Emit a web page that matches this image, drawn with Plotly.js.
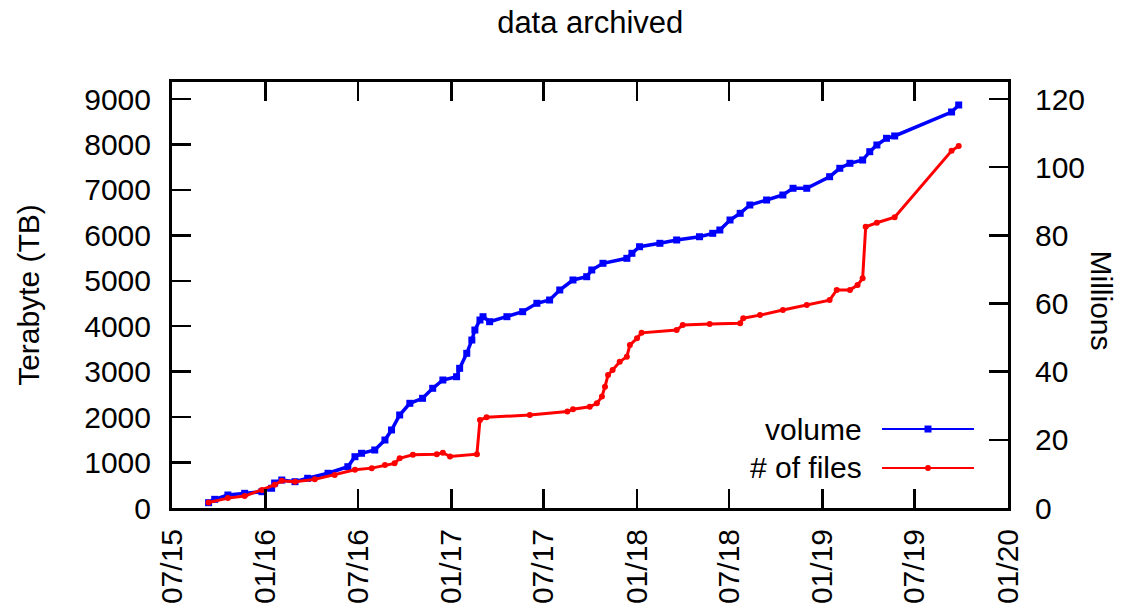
<!DOCTYPE html>
<html>
<head>
<meta charset="utf-8">
<script src="https://cdn.plot.ly/plotly-3.0.1.min.js"></script>
<style>html,body{margin:0;padding:0;background:#fff;}#chart{width:1121px;height:608px;}</style>
</head>
<body>
<div id="chart"></div>
<script>
// ---- data ----
const volDates = ['2015-09-11','2015-09-23','2015-10-19','2015-11-21','2015-12-25','2016-01-13','2016-01-19','2016-02-02','2016-02-28','2016-03-24','2016-05-03','2016-06-11','2016-06-25','2016-07-08','2016-08-03','2016-08-23','2016-09-05','2016-09-21','2016-10-11','2016-11-05','2016-11-25','2016-12-15','2017-01-11','2017-01-17','2017-01-31','2017-02-10','2017-02-16','2017-02-26','2017-03-04','2017-03-17','2017-04-20','2017-05-21','2017-06-18','2017-07-13','2017-08-02','2017-08-28','2017-09-24','2017-10-04','2017-10-26','2017-12-12','2017-12-22','2018-01-06','2018-02-15','2018-03-20','2018-05-04','2018-05-30','2018-06-13','2018-07-03','2018-07-23','2018-08-11','2018-09-13','2018-10-15','2018-11-04','2018-12-01','2019-01-15','2019-02-04','2019-02-24','2019-03-21','2019-04-04','2019-04-18','2019-05-07','2019-05-23','2019-09-12','2019-09-26'];
const volTB = [117,191,286,323,359,434,550,616,579,654,764,909,1129,1204,1276,1496,1717,2047,2304,2414,2634,2817,2889,3074,3404,3697,3917,4137,4210,4100,4210,4320,4505,4577,4798,5018,5090,5238,5385,5495,5605,5750,5825,5898,5970,6045,6118,6338,6485,6668,6778,6888,7036,7036,7291,7476,7586,7658,7841,7989,8136,8187,8715,8869];

const filesDates = ['2015-09-11','2015-10-19','2015-11-21','2015-12-25','2016-01-19','2016-02-02','2016-02-28','2016-04-07','2016-05-16','2016-06-25','2016-07-28','2016-08-23','2016-09-11','2016-09-21','2016-10-17','2016-12-03','2016-12-15','2016-12-29','2017-02-20','2017-02-26','2017-03-11','2017-06-04','2017-08-17','2017-08-28','2017-09-30','2017-10-14','2017-10-24','2017-10-30','2017-11-05','2017-11-14','2017-11-28','2017-12-12','2017-12-18','2018-01-01','2018-01-10','2018-03-20','2018-04-01','2018-05-24','2018-07-23','2018-07-29','2018-08-31','2018-10-15','2018-12-01','2019-01-15','2019-01-29','2019-02-24','2019-03-11','2019-03-21','2019-03-27','2019-04-18','2019-05-23','2019-09-12','2019-09-26'];
const filesMillions = [1.6,2.9,3.5,5.3,6.8,8.0,7.7,8.4,9.7,11.2,11.7,12.6,13.1,14.6,15.6,15.8,16.2,15.1,15.8,25.8,26.6,27.3,28.3,29.0,29.7,30.7,32.7,35.6,39.0,40.5,42.9,44.4,47.8,49.8,51.4,52.2,53.7,54.0,54.2,55.7,56.6,58.1,59.6,61.0,64.0,64.0,65.4,67.4,82.5,83.7,85.3,104.8,106.2];

const xTickVals = ['2015-07-01','2016-01-01','2016-07-01','2017-01-01','2017-07-01','2018-01-01','2018-07-01','2019-01-01','2019-07-01','2020-01-01'];
const xTickText = ['07/15','01/16','07/16','01/17','07/17','01/18','07/18','01/19','07/19','01/20'];
const seriesNames = ['volume', '# of files'];
const titleText = 'data archived';
const yTitle = 'Terabyte (TB)';
const y2Title = 'Millions';

// ---- styling ----
const FONT = 'Liberation Sans, Arial, Helvetica, sans-serif';
const FS = 30;
const BLUE = '#0000ff';
const RED = '#ff0000';

const traces = [
  {
    x: volDates, y: volTB, name: seriesNames[0], type: 'scatter', mode: 'lines+markers',
    line: {color: BLUE, width: 3.5}, marker: {color: BLUE, symbol: 'square', size: 7},
    yaxis: 'y', showlegend: false
  },
  {
    x: filesDates, y: filesMillions, name: seriesNames[1], type: 'scatter', mode: 'lines+markers',
    line: {color: RED, width: 3}, marker: {color: RED, symbol: 'circle', size: 6},
    yaxis: 'y2', showlegend: false
  }
];

// legend (gnuplot style: text right-aligned, sample on the right)
const legY = [0.1854, 0.0939];
const legTextX = 0.8278, legX0 = 0.8493, legX1 = 0.9593, legMk = 0.9043;
const shapes = [
  {type: 'line', xref: 'paper', yref: 'paper', x0: legX0, x1: legX1, y0: legY[0], y1: legY[0], line: {color: BLUE, width: 2}},
  {type: 'rect', xref: 'paper', yref: 'paper', xsizemode: 'pixel', ysizemode: 'pixel', xanchor: legMk, yanchor: legY[0], x0: -3.5, x1: 3.5, y0: -3.5, y1: 3.5, fillcolor: BLUE, line: {width: 0}},
  {type: 'line', xref: 'paper', yref: 'paper', x0: legX0, x1: legX1, y0: legY[1], y1: legY[1], line: {color: RED, width: 2}},
  {type: 'circle', xref: 'paper', yref: 'paper', xsizemode: 'pixel', ysizemode: 'pixel', xanchor: legMk, yanchor: legY[1], x0: -3, x1: 3, y0: -3, y1: 3, fillcolor: RED, line: {width: 0}}
];
const annotations = [
  {xref: 'paper', yref: 'paper', x: legTextX, y: legY[0], xanchor: 'right', yanchor: 'middle', text: seriesNames[0], showarrow: false, font: {family: FONT, size: FS, color: '#000'}},
  {xref: 'paper', yref: 'paper', x: legTextX, y: legY[1], xanchor: 'right', yanchor: 'middle', text: seriesNames[1], showarrow: false, font: {family: FONT, size: FS, color: '#000'}},
  {xref: 'paper', yref: 'paper', x: 1.112, y: 0.488, xanchor: 'center', yanchor: 'middle', text: y2Title, textangle: 90, showarrow: false, font: {family: FONT, size: FS, color: '#000'}}
];

const axisCommon = {
  showgrid: false, zeroline: false, showline: true, linecolor: '#000', linewidth: 3,
  ticks: 'inside', ticklen: 19, tickwidth: 2.5, tickcolor: '#000',
  tickfont: {family: FONT, size: FS, color: '#000'}
};

const layout = {
  width: 1121, height: 608,
  margin: {l: 172, r: 113, t: 82, b: 100},
  paper_bgcolor: '#fff', plot_bgcolor: '#fff',
  font: {family: FONT, size: FS, color: '#000'},
  title: {text: titleText, font: {family: FONT, size: 31, color: '#000'}, x: 0.5265, xanchor: 'center', y: 1 - 22/608, yanchor: 'middle', yref: 'container'},
  xaxis: Object.assign({}, axisCommon, {
    type: 'date', range: ['2015-07-01', '2020-01-01'], tickmode: 'array', tickvals: xTickVals, ticktext: xTickText,
    tickangle: -90, mirror: 'ticks', ticklabelstandoff: 6
  }),
  yaxis: Object.assign({}, axisCommon, {
    range: [0, 9375], tickmode: 'linear', tick0: 0, dtick: 1000, mirror: true, ticklabelstandoff: 12,
    title: {text: yTitle, font: {family: FONT, size: FS, color: '#000'}, standoff: 36}
  }),
  yaxis2: Object.assign({}, axisCommon, {
    range: [0, 125], tickmode: 'linear', tick0: 0, dtick: 20, overlaying: 'y', side: 'right', ticklabelstandoff: 18
  }),
  shapes: shapes,
  annotations: annotations,
  showlegend: false
};

Plotly.newPlot('chart', traces, layout, {staticPlot: true, displayModeBar: false});
</script>
</body>
</html>
